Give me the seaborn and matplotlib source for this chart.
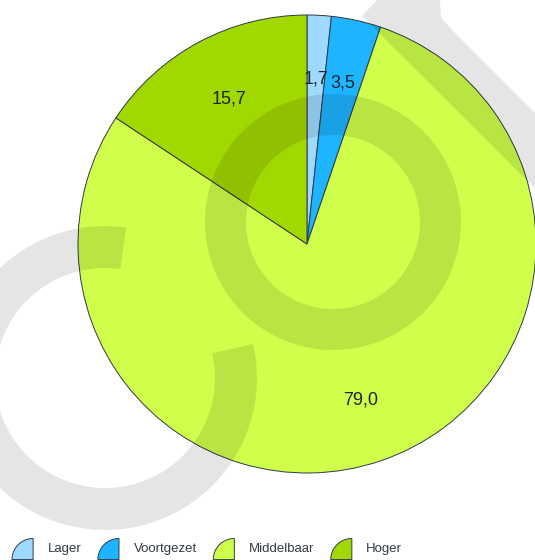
import matplotlib
matplotlib.use("Agg")
import matplotlib.pyplot as plt
import seaborn as sns
from matplotlib.patches import Wedge, Patch, Polygon
from matplotlib.legend_handler import HandlerPatch
import numpy as np

# ---- data ----
categories = ["Lager", "Voortgezet", "Middelbaar", "Hoger"]
values = [1.7, 3.5, 79.0, 15.7]
value_labels = ["1,7", "3,5", "79,0", "15,7"]
colors = ["#9ED9FF", "#1EB4FF", "#CFFF4A", "#A0D800"]

sns.set_theme(style="white")
plt.rcParams["font.family"] = ["Liberation Sans", "DejaVu Sans"]

W, H = 535, 560
fig = plt.figure(figsize=(W / 100, H / 100), dpi=100)
fig.patch.set_facecolor("white")

# pie axes: centre (307, 244) px from top, radius 229 px
cx, cy, R = 307, 244, 229
ax = fig.add_axes([(cx - R) / W, (H - cy - R) / H, 2 * R / W, 2 * R / H])
palette = sns.color_palette(colors)
wedges, _ = ax.pie(values, colors=palette, startangle=90, counterclock=False,
                   radius=1.0,
                   wedgeprops=dict(edgecolor="#2f3a4a", linewidth=0.7))
ax.set_xlim(-1, 1)
ax.set_ylim(-1, 1)
ax.set_aspect("equal")
ax.axis("off")
for w in wedges:
    w.set_clip_on(False)

for w, lab in zip(wedges, value_labels):
    mid = np.deg2rad((w.theta1 + w.theta2) / 2)
    ax.text(0.72 * np.cos(mid), 0.72 * np.sin(mid), lab, ha="center", va="center",
            fontsize=13, color="#1e2530")


# ---- legend with quarter-disc icons ----
class QuarterHandler(HandlerPatch):
    def create_artists(self, legend, orig_handle, xdescent, ydescent, width, height,
                       fontsize, trans):
        r = width
        centre_y = -ydescent + height / 2
        wx = width - xdescent
        wy = centre_y + 6.5 - r
        p = Wedge((wx, wy), r, 90, 180, facecolor=orig_handle.get_facecolor(),
                  edgecolor="#2f3a4a", linewidth=0.7, transform=trans)
        return [p]


handles = [Patch(facecolor=c, label=l) for c, l in zip(colors, categories)]
fs = 9.5
fig.legend(handles=handles, loc="center left", bbox_to_anchor=(12 / W, 11 / H),
           ncol=4, frameon=False, fontsize=fs, borderpad=0, borderaxespad=0,
           handlelength=1.6, handletextpad=1.1, columnspacing=1.25,
           handler_map={Patch: QuarterHandler()}, labelcolor="#333a44")

# ---- watermark overlay (pixel coordinates, y up) ----
ov = fig.add_axes([0, 0, 1, 1], zorder=10)
ov.set_xlim(0, W)
ov.set_ylim(0, H)
ov.axis("off")
ov.patch.set_alpha(0)
wm = dict(facecolor="black", alpha=0.1, edgecolor="none")
# central ring
ov.add_patch(Wedge((333, H - 222), 128, 0, 360, width=41, **wm))
# left open ring
ov.add_patch(Wedge((105, H - 378), 152, 82, 373, width=42, **wm))
# top-right diagonal band
band = [(362, 16), (377, 0), (440, 0), (441, 18), (458, 36), (700, 278), (650, 303)]
ov.add_patch(Polygon([(x, H - y) for x, y in band], closed=True, **wm))

fig.savefig("out.png", dpi=100)
